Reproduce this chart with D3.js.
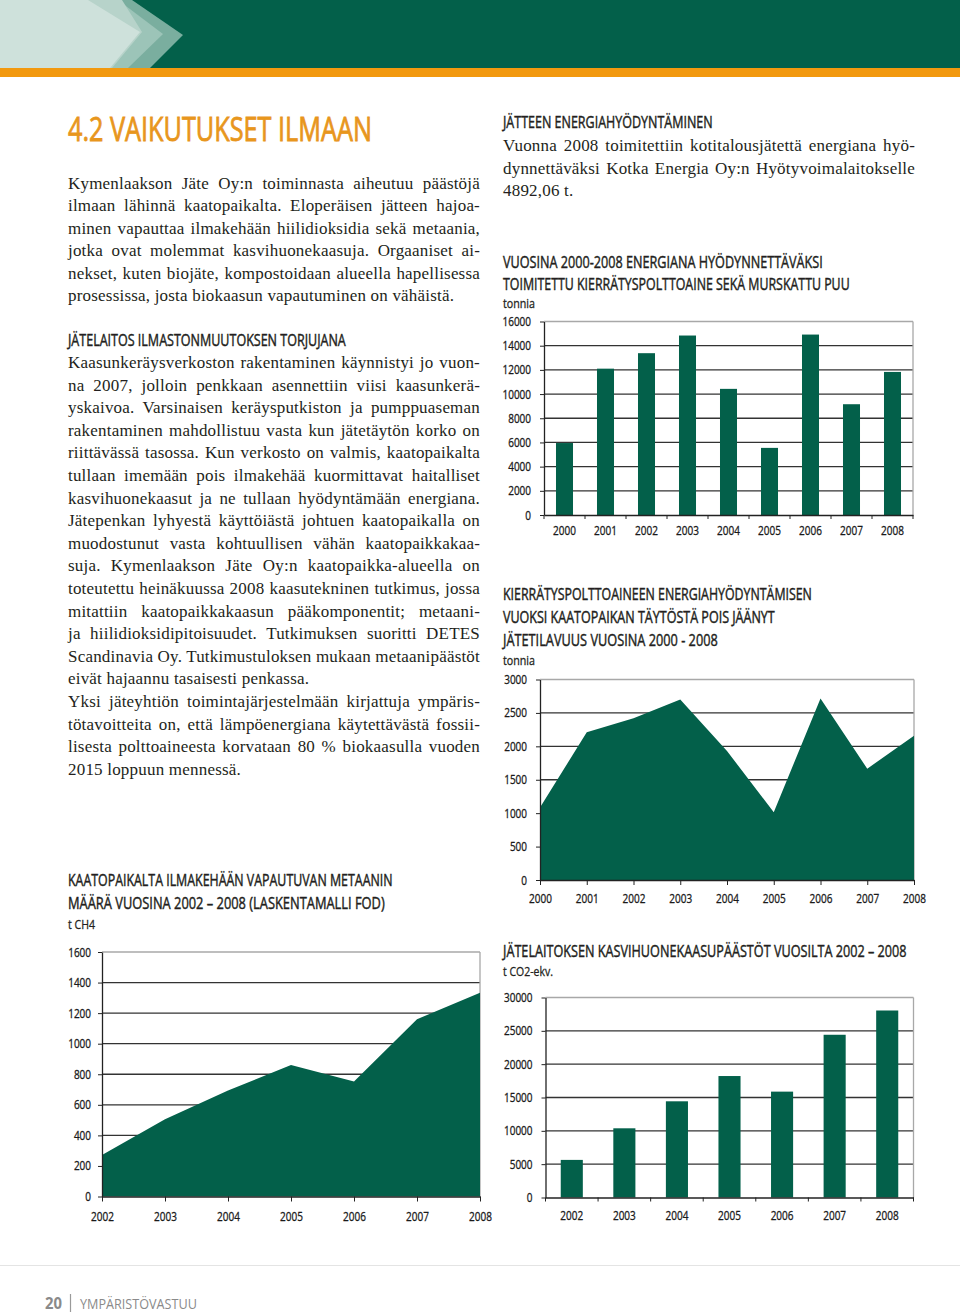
<!DOCTYPE html>
<html><head><meta charset="utf-8">
<script src="https://cdn.jsdelivr.net/npm/d3@7"></script>
<style>
body{margin:0;background:#fff}
svg{display:block}
</style>
</head><body>
<svg id="page" width="960" height="1316"></svg>
<script>
// ---------- DATA ----------
const fuelYears  = ["2000","2001","2002","2003","2004","2005","2006","2007","2008"];
const fuelTonnes = [5950, 12100, 13380, 14840, 10430, 5550, 14920, 9160, 11830];
const fuelTicks  = [0,2000,4000,6000,8000,10000,12000,14000,16000];

const volYears   = ["2000","2001","2002","2003","2004","2005","2006","2007","2008"];
const volTonnes  = [1085, 2210, 2420, 2700, 1930, 1015, 2715, 1665, 2160];
const volTicks   = [0,500,1000,1500,2000,2500,3000];

const ch4Years   = ["2002","2003","2004","2005","2006","2007","2008"];
const ch4Tonnes  = [272, 506, 693, 861, 752, 1160, 1334];
const ch4Ticks   = [0,200,400,600,800,1000,1200,1400,1600];

const ghgYears   = ["2002","2003","2004","2005","2006","2007","2008"];
const ghgTonnes  = [5640, 10380, 14430, 18220, 15880, 24410, 28050];
const ghgTicks   = [0,5000,10000,15000,20000,25000,30000];

const para1 = [
 "Kymenlaakson Jäte Oy:n toiminnasta aiheutuu päästöjä",
 "ilmaan lähinnä kaatopaikalta. Eloperäisen jätteen hajoa-",
 "minen vapauttaa ilmakehään hiilidioksidia sekä metaania,",
 "jotka ovat molemmat kasvihuonekaasuja. Orgaaniset ai-",
 "nekset, kuten biojäte, kompostoidaan alueella hapellisessa",
 "prosessissa, josta biokaasun vapautuminen on vähäistä."
];
const para2 = [
 "Kaasunkeräysverkoston rakentaminen käynnistyi jo vuon-",
 "na 2007, jolloin penkkaan asennettiin viisi kaasunkerä-",
 "yskaivoa. Varsinaisen keräysputkiston ja pumppuaseman",
 "rakentaminen mahdollistuu vasta kun jätetäytön korko on",
 "riittävässä tasossa. Kun verkosto on valmis, kaatopaikalta",
 "tullaan imemään pois ilmakehää kuormittavat haitalliset",
 "kasvihuonekaasut ja ne tullaan hyödyntämään energiana.",
 "Jätepenkan lyhyestä käyttöiästä johtuen kaatopaikalla on",
 "muodostunut vasta kohtuullisen vähän kaatopaikkakaa-",
 "suja. Kymenlaakson Jäte Oy:n kaatopaikka-alueella on",
 "toteutettu heinäkuussa 2008 kaasutekninen tutkimus, jossa",
 "mitattiin kaatopaikkakaasun pääkomponentit; metaani-",
 "ja hiilidioksidipitoisuudet. Tutkimuksen suoritti DETES",
 "Scandinavia Oy. Tutkimustuloksen mukaan metaanipäästöt",
 "eivät hajaannu tasaisesti penkassa."
];
const para3 = [
 "Yksi jäteyhtiön toimintajärjestelmään kirjattuja ympäris-",
 "tötavoitteita on, että lämpöenergiana käytettävästä fossii-",
 "lisesta polttoaineesta korvataan 80 % biokaasulla vuoden",
 "2015 loppuun mennessä."
];
const para4 = [
 "Vuonna 2008 toimitettiin kotitalousjätettä energiana hyö-",
 "dynnettäväksi Kotka Energia Oy:n Hyötyvoimalaitokselle",
 "4892,06 t."
];

// ---------- STYLE ----------
const GREEN = "#03604a", ORANGE = "#f2990f", INK = "#231f20";
const SANS = "'Open Sans', sans-serif", SERIF = "'Liberation Serif', serif";

const svg = d3.select("#page");

// ---------- HEADER ----------
svg.append("rect").attr("x",0).attr("y",0).attr("width",960).attr("height",68).attr("fill",GREEN);
svg.append("rect").attr("x",0).attr("y",68).attr("width",960).attr("height",9).attr("fill",ORANGE);
const chev = [
  {c:"#7aae9f", p:[[132,0],[183,35],[150,68],[0,68],[0,0]]},
  {c:"#9cc4b8", p:[[118,0],[163,34],[128,68],[0,68],[0,0]]},
  {c:"#b7d3ca", p:[[90,0],[122,0],[142,32],[112,68],[0,68],[0,0]]},
  {c:"#cee1db", p:[[88,0],[140,32],[110,68],[0,68],[0,0]]}
];
svg.append("g").selectAll("polygon").data(chev).join("polygon")
  .attr("points", d => d.p.map(q => q.join(",")).join(" ")).attr("fill", d => d.c);

// ---------- TEXT HELPERS ----------
// condensed text: natural glyphs, then scaled horizontally to the wanted width
function cond(parent, str, x, y, size, width, o = {}) {
  const fill = o.fill || INK;
  const t = parent.append("text").attr("x", 0).attr("y", 0)
    .attr("font-family", SANS).attr("font-size", size)
    .attr("font-weight", o.weight || 400)
    .attr("fill", fill).text(str);
  if (o.stroke) t.attr("stroke", fill).attr("stroke-width", o.stroke);
  const nat = t.node().getComputedTextLength();
  const f = width / nat;
  t.attr("transform", `translate(${x},${y}) scale(${f},1)`);
  return t;
}
function squeeze(sel, f) {
  sel.each(function() {
    const t = d3.select(this);
    const x = +(t.attr("x") || 0);
    t.attr("x", x / f).attr("transform", `scale(${f},1)`);
  });
}
function paragraph(lines, x, y0, lh, width) {
  const g = svg.append("g").attr("font-family", SERIF).attr("font-size", 17)
    .attr("fill", INK).style("letter-spacing", "0.2px");
  lines.forEach((s, i) => {
    const t = g.append("text").attr("x", x).attr("y", y0 + i * lh).text(s);
    if (i < lines.length - 1) {
      const nat = t.node().getComputedTextLength();
      const n = (s.match(/ /g) || []).length;
      if (n) t.style("word-spacing", ((width - nat) / n) + "px");
    }
  });
}
const H = {stroke: 0.45};

// ---------- LEFT COLUMN TEXT ----------
cond(svg, "4.2 VAIKUTUKSET ILMAAN", 68, 141, 32, 304, {fill:"#e8961d", stroke:0.8});
paragraph(para1, 68, 189, 22.4, 412);
cond(svg, "JÄTELAITOS ILMASTONMUUTOKSEN TORJUJANA", 68, 346, 17, 278, H);
paragraph(para2, 68, 368, 22.6, 412);
paragraph(para3, 68, 368 + 15 * 22.6, 22.6, 412);

// ---------- RIGHT COLUMN TEXT ----------
cond(svg, "JÄTTEEN ENERGIAHYÖDYNTÄMINEN", 503, 128, 17, 210, H);
paragraph(para4, 503, 151, 22.6, 412);

cond(svg, "VUOSINA 2000-2008 ENERGIANA HYÖDYNNETTÄVÄKSI", 503, 268, 17, 320, H);
cond(svg, "TOIMITETTU KIERRÄTYSPOLTTOAINE SEKÄ MURSKATTU PUU", 503, 290, 17, 347, H);
cond(svg, "tonnia", 503, 308, 13, 32, {stroke:0.3});

cond(svg, "KIERRÄTYSPOLTTOAINEEN ENERGIAHYÖDYNTÄMISEN", 503, 600, 17, 309, H);
cond(svg, "VUOKSI KAATOPAIKAN TÄYTÖSTÄ POIS JÄÄNYT", 503, 623, 17, 272, H);
cond(svg, "JÄTETILAVUUS VUOSINA 2000 - 2008", 503, 646, 17, 215, H);
cond(svg, "tonnia", 503, 665, 13, 32, {stroke:0.3});

cond(svg, "KAATOPAIKALTA ILMAKEHÄÄN VAPAUTUVAN METAANIN", 68, 886, 17, 325, H);
cond(svg, "MÄÄRÄ VUOSINA 2002 – 2008 (LASKENTAMALLI FOD)", 68, 909, 17, 317, H);
cond(svg, "t CH4", 68, 929, 13, 27, {stroke:0.3});

cond(svg, "JÄTELAITOKSEN KASVIHUONEKAASUPÄÄSTÖT VUOSILTA 2002 – 2008", 503, 957, 17, 404, H);
cond(svg, "t CO2-ekv.", 503, 976, 13, 50, {stroke:0.3});

// ---------- CHARTS ----------
function chart(o) {
  const g = svg.append("g");
  const max = o.ticks[o.ticks.length - 1];
  const y = d3.scaleLinear().domain([0, max]).range([o.bottom, o.top]);
  let x;
  if (o.type === "bar") {
    const p = 1 - o.ratio;
    x = d3.scaleBand().domain(o.cats).range([o.left, o.right]).paddingInner(p).paddingOuter(p / 2);
  } else {
    x = d3.scalePoint().domain(o.cats).range([o.left, o.right]);
  }
  // grid
  g.append("g").selectAll("line").data(o.ticks.filter(t => t > 0)).join("line")
    .attr("x1", o.left).attr("x2", o.right)
    .attr("y1", d => y(d)).attr("y2", d => y(d))
    .attr("stroke", d => d === max ? "#a8a8a8" : "#333").attr("stroke-width", 1.3);
  g.append("line").attr("x1", o.right).attr("x2", o.right).attr("y1", y(max)).attr("y2", y(0))
    .attr("stroke", "#a8a8a8").attr("stroke-width", 1.3);
  // marks
  const rows = o.cats.map((c, i) => ({c, v: o.values[i]}));
  if (o.type === "bar") {
    g.append("g").selectAll("rect").data(rows).join("rect")
      .attr("x", d => x(d.c)).attr("width", x.bandwidth())
      .attr("y", d => y(d.v)).attr("height", d => y(0) - y(d.v))
      .attr("fill", GREEN);
  } else {
    const area = d3.area().x(d => x(d.c)).y0(y(0)).y1(d => y(d.v));
    g.append("path").datum(rows).attr("d", area).attr("fill", GREEN);
  }
  // y axis
  const ya = g.append("g").attr("transform", `translate(${o.left},0)`)
    .call(d3.axisLeft(y).tickValues(o.ticks).tickFormat(d3.format("d"))
      .tickSize(4).tickSizeOuter(0).tickPadding(o.yPad));
  // x axis
  const xa = g.append("g").attr("transform", `translate(0,${o.bottom})`);
  if (o.type === "bar") {
    xa.call(d3.axisBottom(x).tickSize(0).tickSizeOuter(0).tickPadding(o.xPad));
    const bounds = d3.range(o.cats.length + 1).map(i => o.left + i * x.step());
    xa.append("g").selectAll("line").data(bounds).join("line")
      .attr("x1", d => d).attr("x2", d => d).attr("y1", 0).attr("y2", 4)
      .attr("stroke", "#222");
  } else {
    xa.call(d3.axisBottom(x).tickSize(5).tickSizeOuter(0).tickPadding(o.xPad));
  }
  [ya, xa].forEach(a => {
    a.select(".domain").attr("stroke", "#222").attr("stroke-width", 1.3);
    a.selectAll(".tick line").attr("stroke", "#222");
    a.selectAll("text").attr("font-family", SANS).attr("font-size", 12.5)
      .attr("fill", "#1a1a1a").attr("stroke", "#1a1a1a").attr("stroke-width", 0.3);
    squeeze(a.selectAll("text"), 0.8);
  });
}

chart({type:"bar", cats:fuelYears, values:fuelTonnes, ticks:fuelTicks,
  left:544, right:913, top:321.5, bottom:515, ratio:0.415, yPad:9, xPad:11.5});
chart({type:"area", cats:volYears, values:volTonnes, ticks:volTicks,
  left:540, right:914, top:679.5, bottom:880, yPad:9, xPad:8.8});
chart({type:"area", cats:ch4Years, values:ch4Tonnes, ticks:ch4Ticks,
  left:102, right:480, top:952, bottom:1196.5, yPad:7, xPad:10.8});
chart({type:"bar", cats:ghgYears, values:ghgTonnes, ticks:ghgTicks,
  left:545.5, right:913.5, top:997.5, bottom:1197.5, ratio:0.42, yPad:9, xPad:14});

// ---------- FOOTER ----------
svg.append("line").attr("x1",0).attr("x2",960).attr("y1",1265.5).attr("y2",1265.5)
  .attr("stroke","#e4e4e4").attr("stroke-width",1);
cond(svg, "20", 45, 1309, 16, 17, {fill:"#8a8a8a", weight:700});
svg.append("line").attr("x1",70.5).attr("x2",70.5).attr("y1",1294).attr("y2",1312)
  .attr("stroke","#9a9a9a").attr("stroke-width",1.2);
cond(svg, "YMPÄRISTÖVASTUU", 80, 1309, 15, 117, {fill:"#8a8a8a"});
</script>
</body></html>
